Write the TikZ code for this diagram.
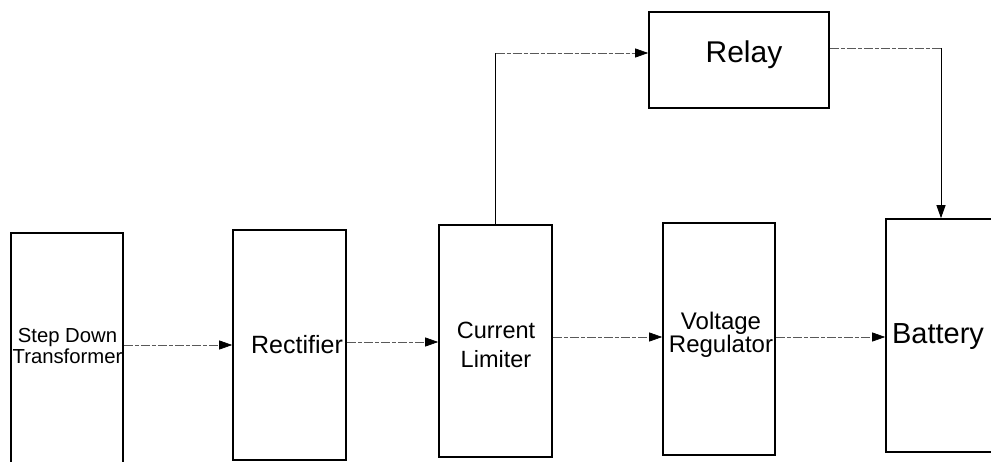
\documentclass[tikz,border=0pt]{standalone}
\usepackage{fontspec}
\setmainfont{Liberation Sans}
\usetikzlibrary{arrows.meta}
\begin{document}
\begin{tikzpicture}[x=1pt,y=-1pt,
  blk/.style={draw=black,line width=1.6pt,inner sep=0pt,align=center},
  txt/.style={inner sep=0pt,align=center},
  hlink/.style={draw=black!65,line width=0.7pt,dash pattern=on 9pt off 2pt on 4pt off 2pt},
  vlink/.style={draw=black,line width=0.9pt},
  tip/.style={-{Triangle[length=13pt,width=9pt,color=black]}}]
\clip (0,0) rectangle (991,461);
\fill[white] (0,0) rectangle (991,461);
\node[blk,minimum width=112pt,minimum height=231pt] (sd) at (67,348.5) {};
\node[txt,font=\fontsize{20.3}{20.5}\selectfont] (sdt) at (67.5,346) {Step Down\\Transformer};
\node[blk,minimum width=113pt,minimum height=230pt] (rect) at (289.5,345) {};
\node[txt,font=\fontsize{25}{26}\selectfont] (rectt) at (297,345) {Rectifier};
\node[blk,minimum width=113pt,minimum height=232pt] (cl) at (495.5,341) {};
\node[txt,font=\fontsize{23.5}{29}\selectfont] (clt) at (496,345) {Current\\Limiter};
\node[blk,minimum width=112pt,minimum height=232pt] (vr) at (719,339) {};
\node[txt,font=\fontsize{24}{23}\selectfont] (vrt) at (721,335) {Voltage\\Regulator};
\node[blk,minimum width=116pt,minimum height=233pt] (bat) at (944,335.5) {};
\node[txt,font=\fontsize{29}{30}\selectfont] (batt) at (938,337) {Battery};
\node[blk,minimum width=180pt,minimum height=96pt] (relay) at (739,60) {};
\node[txt,font=\fontsize{30}{30}\selectfont] (relayt) at (744,55) {Relay};
% horizontal chain
\draw[hlink,tip] (sd.east |- 0,345) -- (rect.west |- 0,345);
\draw[hlink,tip] (rect.east |- 0,342) -- (cl.west |- 0,342);
\draw[hlink,tip] (cl.east |- 0,337) -- (vr.west |- 0,337);
\draw[hlink,tip] (vr.east |- 0,337) -- (bat.west |- 0,337);
% current limiter to relay
\coordinate (c1) at (495.5,53);
\draw[vlink] (cl.north) -- (c1);
\draw[hlink,tip] (c1) -- (relay.west |- c1);
% relay to battery
\coordinate (c2) at (941,48);
\draw[hlink] (relay.east |- c2) -- (c2);
\draw[vlink,tip] (c2) -- (bat.north -| c2);
\end{tikzpicture}
\end{document}
